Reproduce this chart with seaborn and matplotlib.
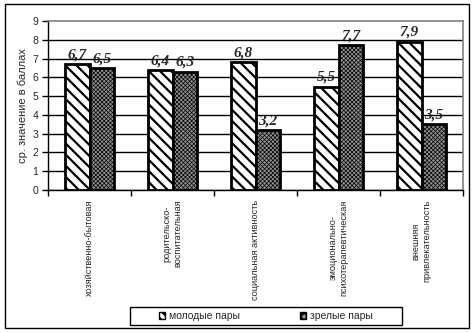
import matplotlib
matplotlib.use("Agg")
import matplotlib.pyplot as plt
from matplotlib.patches import Rectangle, Patch
import seaborn as sns
import pandas as pd

categories = [
    "хозяйственно-бытовая",
    "родительско-\nвоспитательная",
    "социальная активность",
    "эмоционально-\nпсихотерапевтическая",
    "внешняя\nпривлекательность",
]
series_names = ["молодые пары", "зрелые пары"]
young = [6.7, 6.4, 6.8, 5.5, 7.9]
mature = [6.5, 6.3, 3.2, 7.7, 3.5]
y_ticks = list(range(0, 10))

df = pd.DataFrame({
    "category": categories * 2,
    "group": [series_names[0]] * len(categories) + [series_names[1]] * len(categories),
    "value": young + mature,
})

sns.set_theme(style="white")
plt.rcParams["font.family"] = ["Liberation Sans", "DejaVu Sans"]
plt.rcParams["hatch.linewidth"] = 1.6

fig = plt.figure(figsize=(4.75, 3.33), dpi=100)
ax = fig.add_axes([48 / 475, 1 - 190 / 333, (463 - 48) / 475, (190 - 21) / 333])

fill_colors = ["white", "#929292"]
hatches = ["\\\\\\", "xxxxxxxx"]

sns.barplot(data=df, x="category", y="value", hue="group", order=categories,
            hue_order=series_names, palette=fill_colors, width=0.6,
            edgecolor="black", linewidth=2, saturation=1, legend=False, ax=ax)

for container, h in zip(ax.containers, hatches):
    for bar in container:
        bar.set_hatch(h)
        if h.startswith("x") and hasattr(bar, "set_hatch_linewidth"):
            bar.set_hatch_linewidth(0.5)
    labels = [f"{v:.1f}".replace(".", ",") for v in container.datavalues]
    ax.bar_label(container, labels=labels, padding=2,
                 fontfamily="Liberation Serif", fontweight="bold",
                 fontstyle="italic", fontsize=11)

ax.set_ylim(0, 9)
ax.set_xlim(-0.5, len(categories) - 0.5)
ax.set_yticks(y_ticks)
ax.yaxis.grid(True, color="black", linewidth=1)
ax.yaxis.get_gridlines()[-1].set_visible(False)
ax.set_axisbelow(True)
for side in ["top", "right"]:
    ax.spines[side].set_color("#808080")
    ax.spines[side].set_linewidth(1.2)
for side in ["left", "bottom"]:
    ax.spines[side].set_color("black")
    ax.spines[side].set_linewidth(1)

ax.tick_params(axis="y", which="major", length=4, width=1, color="black",
               direction="out", left=True, labelsize=7.5, pad=3)
ax.set_xticks(range(len(categories)))
ax.set_xticklabels(categories, rotation=90, va="top", ha="center",
                   multialignment="center", fontsize=6.6)
ax.set_xticks([i - 0.5 for i in range(len(categories) + 1)], minor=True)
ax.tick_params(axis="x", which="major", length=0, pad=7)
ax.tick_params(axis="x", which="minor", length=4, width=1, color="black",
               direction="out", bottom=True)

ax.set_xlabel("")
ax.set_ylabel("ср. значение в баллах", fontsize=8, labelpad=3)

# legend entries without frame; the box is drawn separately
handles = [Patch(facecolor=fill_colors[0], edgecolor="black", hatch="\\\\\\\\"),
           Patch(facecolor=fill_colors[1], edgecolor="black", hatch="xxxx")]
leg = fig.legend(handles, series_names, loc="center",
                 bbox_to_anchor=(266 / 475, 1 - 316 / 333), ncol=2,
                 fontsize=7.5, frameon=False, handlelength=0.6,
                 handleheight=0.6, handletextpad=0.4, columnspacing=5.7,
                 borderpad=0, borderaxespad=0)

fig.patches.append(Rectangle((130 / 475, 1 - 325 / 333), 272 / 475, 18 / 333,
                             transform=fig.transFigure, fill=False,
                             edgecolor="black", linewidth=1))
fig.patches.append(Rectangle((5 / 475, 5 / 333), 464 / 475, 324 / 333,
                             transform=fig.transFigure, fill=False,
                             edgecolor="black", linewidth=1))

fig.savefig("out.png", dpi=100, facecolor="white")
